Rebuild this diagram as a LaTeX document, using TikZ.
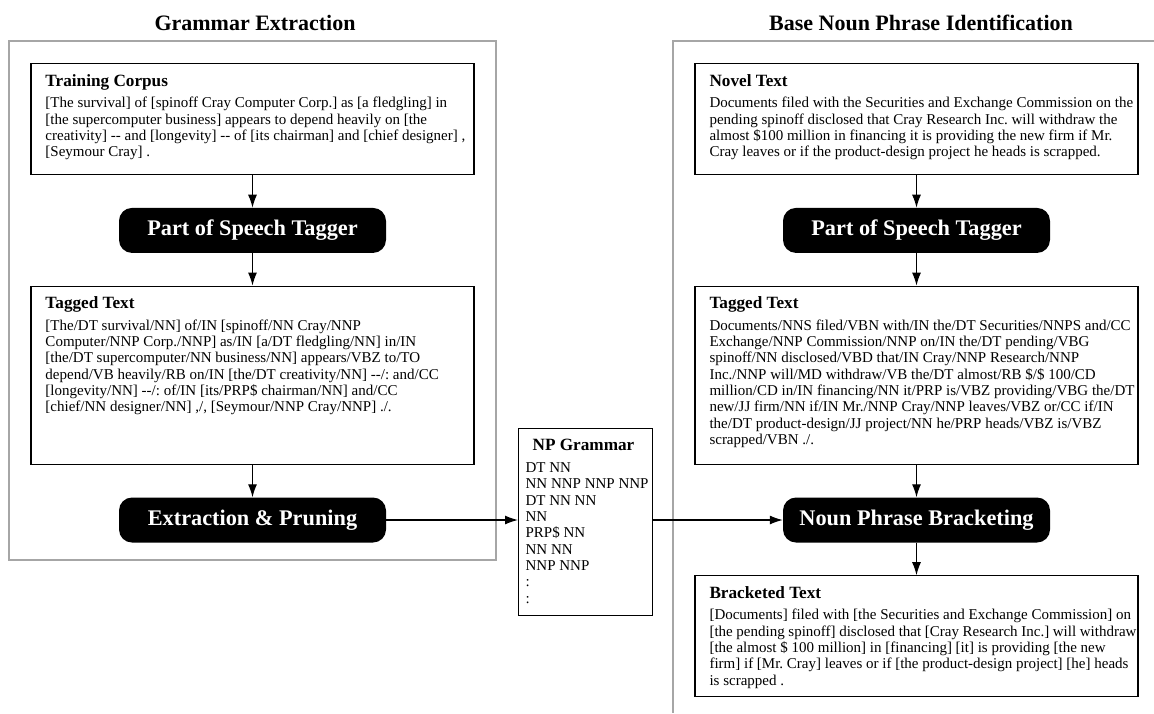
\documentclass[tikz,border=0pt]{standalone}
\usepackage{fontspec}
\setmainfont{Liberation Serif}
\usetikzlibrary{arrows.meta,positioning,calc}
\tikzset{
	>={Latex[length=13pt,width=9pt]}, node distance=32.5pt,
	textbox/.style={draw, line width=1.2pt, inner xsep=1.5pt, inner ysep=10.5pt},
	procbox/.style={fill=black, rounded corners=13pt, minimum width=267pt, minimum height=45pt,
		text=white, font=\fontsize{22.3}{26}\selectfont\bfseries},
	gramma/.style={draw, line width=1.2pt, inner xsep=0pt, inner ysep=11pt},
	frame/.style={draw=black!35, line width=1.4pt},
	coltitle/.style={font=\fontsize{22}{26}\selectfont\bfseries},
	flow/.style={->, line width=1.2pt},
}
\newcommand{\headfont}{\fontsize{17.2}{19}\selectfont\bfseries}
\newcommand{\bodyfont}{\fontsize{15}{16.3}\selectfont}
\newcommand{\textpanel}[3]{\parbox[c][#1][t]{440pt}{\raggedright\leftskip=13pt\frenchspacing
	{\headfont #2\par}\vspace{5.4pt}{\bodyfont #3\par}}}

\begin{document}
\begin{tikzpicture}[x=1pt, y=-1pt]
	\useasboundingbox (0,0) rectangle (1154,713);
	% the two stages
	\draw[frame] (9,41) rectangle (496,560);
	\draw[frame] (1154,41) -- (673,41) -- (673,713);
	\node[coltitle] (titleL) at (255,23) {Grammar Extraction};
	\node[coltitle] (titleR) at (921,23) {Base Noun Phrase Identification};

	% grammar extraction
	\node[textbox, anchor=north] (corpus) at (252.5,63) {\textpanel{90pt}{Training Corpus}{%
		[The survival] of [spinoff Cray Computer Corp.] as [a fledgling] in\par
		[the supercomputer business] appears to depend heavily on [the\par
		creativity] -{}- and [longevity] -{}- of [its chairman] and [chief designer] ,\par
		[Seymour Cray] .}};
	\node[procbox, below=of corpus] (taggerL) {Part of Speech Tagger};
	\node[textbox, below=of taggerL] (taggedL) {\textpanel{157pt}{Tagged Text}{%
		[The/DT survival/NN] of/IN [spinoff/NN Cray/NNP\par
		Computer/NNP Corp./NNP] as/IN [a/DT fledgling/NN] in/IN\par
		[the/DT supercomputer/NN business/NN] appears/VBZ to/TO\par
		depend/VB heavily/RB on/IN [the/DT creativity/NN] -{}-/: and/CC\par
		[longevity/NN] -{}-/: of/IN [its/PRP\$ chairman/NN] and/CC\par
		[chief/NN designer/NN] ,/, [Seymour/NNP Cray/NNP] ./.}};
	\node[procbox, below=of taggedL] (extract) {Extraction \& Pruning};

	% base noun phrase identification
	\node[textbox, anchor=north] (novel) at (916.5,63) {\textpanel{90pt}{Novel Text}{%
		Documents filed with the Securities and Exchange Commission on the\par
		pending spinoff disclosed that Cray Research Inc. will withdraw the\par
		almost \$100 million in financing it is providing the new firm if Mr.\par
		Cray leaves or if the product-design project he heads is scrapped.}};
	\node[procbox, below=of novel] (taggerR) {Part of Speech Tagger};
	\node[textbox, below=of taggerR] (taggedR) {\textpanel{157pt}{Tagged Text}{%
		Documents/NNS filed/VBN with/IN the/DT Securities/NNPS and/CC\par
		Exchange/NNP Commission/NNP on/IN the/DT pending/VBG\par
		spinoff/NN disclosed/VBD that/IN Cray/NNP Research/NNP\par
		Inc./NNP will/MD withdraw/VB the/DT almost/RB \$/\$ 100/CD\par
		million/CD in/IN financing/NN it/PRP is/VBZ providing/VBG the/DT\par
		new/JJ firm/NN if/IN Mr./NNP Cray/NNP leaves/VBZ or/CC if/IN\par
		the/DT product-design/JJ project/NN he/PRP heads/VBZ is/VBZ\par
		scrapped/VBN ./.}};
	\node[procbox, below=of taggedR] (bracket) {Noun Phrase Bracketing};
	\node[textbox, below=of bracket] (bracketed) {\textpanel{100pt}{Bracketed Text}{%
		[Documents] filed with [the Securities and Exchange Commission] on\par
		[the pending spinoff] disclosed that [Cray Research Inc.] will withdraw\par
		[the almost \$ 100 million] in [financing] [it] is providing [the new\par
		firm] if [Mr. Cray] leaves or if [the product-design project] [he] heads\par
		is scrapped .}};

	% the extracted grammar
	\node[gramma, anchor=north west] (grammar) at (518,428) {\parbox[c][165pt][t]{134pt}{%
		\leftskip=7pt{\headfont\hspace*{7pt}NP Grammar\par}\vspace{5.4pt}{\bodyfont
		DT NN\par NN NNP NNP NNP\par DT NN NN\par NN\par PRP\$ NN\par
		NN NN\par NNP NNP\par :\par :\par}}};

	\draw[flow] (corpus) -- (taggerL);
	\draw[flow] (taggerL) -- (taggedL);
	\draw[flow] (taggedL) -- (extract);
	\draw[flow] (extract) -- (extract -| grammar.west);
	\draw[flow] (novel) -- (taggerR);
	\draw[flow] (taggerR) -- (taggedR);
	\draw[flow] (taggedR) -- (bracket);
	\draw[flow] (grammar.east |- bracket) -- (bracket);
	\draw[flow] (bracket) -- (bracketed);
\end{tikzpicture}
\end{document}
